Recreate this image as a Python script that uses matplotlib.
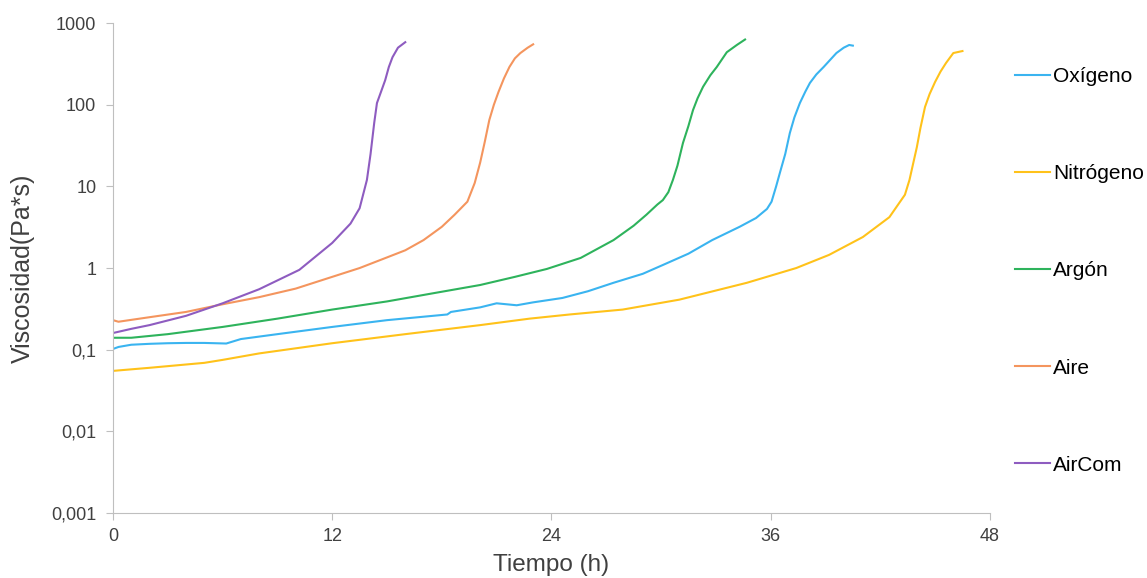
import matplotlib.pyplot as plt
from matplotlib.ticker import FixedLocator, NullLocator

plt.rcParams['font.family'] = ['Liberation Sans', 'DejaVu Sans']

# datos
t_oxigeno = [0, 0.3, 1, 2, 3, 4, 5, 6.2, 7, 9, 12, 15, 18.3, 18.5, 20.1, 21.0, 22.1, 23, 24.6, 26,
             27.4, 29, 30.1, 31.5, 32.8, 34.3, 35.2, 35.8, 36.05, 36.3, 36.5, 36.8, 37.05, 37.3,
             37.6, 37.9, 38.15, 38.5, 38.9, 39.6, 40.0, 40.3, 40.5]
v_oxigeno = [0.102, 0.108, 0.115, 0.118, 0.12, 0.121, 0.121, 0.119, 0.135, 0.155, 0.19, 0.23, 0.27,
             0.29, 0.33, 0.37, 0.35, 0.38, 0.43, 0.52, 0.66, 0.85, 1.09, 1.5, 2.2, 3.2, 4.1, 5.3,
             6.5, 10, 14.5, 25, 45, 70, 105, 145, 185, 235, 290, 430, 500, 540, 530]

t_nitrogeno = [0, 2, 5, 6, 8, 12, 16, 20.1, 22.8, 25, 27.9, 31, 34.7, 37.4, 39.2, 41.05, 42.5,
               43.35, 43.6, 43.8, 44.0, 44.2, 44.45, 44.7, 45.0, 45.3, 45.6, 46.0, 46.5]
v_nitrogeno = [0.055, 0.06, 0.069, 0.075, 0.09, 0.12, 0.155, 0.20, 0.24, 0.27, 0.31, 0.41, 0.66,
               1.0, 1.45, 2.4, 4.2, 7.9, 12, 19, 30, 52, 94, 135, 190, 255, 325, 430, 455]

t_argon = [0, 1, 3, 6, 9, 12, 15, 17.5, 20.1, 22, 23.75, 25.6, 27.4, 28.5, 29.2, 29.8, 30.1, 30.4,
           30.65, 30.9, 31.2, 31.5, 31.75, 32.0, 32.3, 32.7, 33.05, 33.6, 34.15, 34.6]
v_argon = [0.14, 0.14, 0.155, 0.19, 0.24, 0.31, 0.39, 0.49, 0.62, 0.78, 0.975, 1.33, 2.2, 3.3, 4.5,
           6.0, 6.8, 8.5, 12, 18, 34, 55, 86, 120, 166, 230, 290, 440, 540, 630]

t_aire = [0, 0.3, 2, 4, 6, 8, 10, 12, 13.5, 15, 16, 17, 18, 18.7, 19.4, 19.8, 20.1, 20.35, 20.6,
          20.85, 21.1, 21.4, 21.7, 22.0, 22.3, 22.7, 23.0]
v_aire = [0.23, 0.22, 0.25, 0.29, 0.36, 0.44, 0.56, 0.78, 1.0, 1.35, 1.65, 2.2, 3.2, 4.5, 6.5, 11,
          19.6, 35, 65, 100, 143, 210, 290, 370, 430, 500, 550]

t_aircom = [0, 1, 2, 4, 6, 8, 10.2, 12, 13, 13.5, 13.9, 14.1, 14.3, 14.45, 14.7, 14.9, 15.1, 15.3,
            15.6, 16.0]
v_aircom = [0.16, 0.18, 0.2, 0.26, 0.37, 0.55, 0.95, 2.03, 3.5, 5.4, 12, 25, 60, 105, 150, 200, 290,
            382, 500, 584]

x_ticks = [0, 12, 24, 36, 48]
y_ticks = [0.001, 0.01, 0.1, 1, 10, 100, 1000]
y_labels = ['0,001', '0,01', '0,1', '1', '10', '100', '1000']

fig = plt.figure(figsize=(11.47, 5.78), dpi=100)
ax = fig.add_axes([0.0985, 0.1125, 0.7645, 0.8475])

ax.plot(t_oxigeno, v_oxigeno, color='#3AB4F0', lw=1.5, label='Oxígeno')
ax.plot(t_nitrogeno, v_nitrogeno, color='#FFC21A', lw=1.5, label='Nitrógeno')
ax.plot(t_argon, v_argon, color='#2EB35C', lw=1.5, label='Argón')
ax.plot(t_aire, v_aire, color='#F4955E', lw=1.5, label='Aire')
ax.plot(t_aircom, v_aircom, color='#8E5CC0', lw=1.5, label='AirCom')

ax.set_yscale('log')
ax.set_ylim(0.001, 1000)
ax.set_xlim(0, 48)
ax.set_xticks(x_ticks)
ax.set_xticklabels([str(x) for x in x_ticks])
ax.yaxis.set_major_locator(FixedLocator(y_ticks))
ax.yaxis.set_minor_locator(NullLocator())
ax.set_yticklabels(y_labels)

for s in ['top', 'right']:
    ax.spines[s].set_visible(False)
for s in ['left', 'bottom']:
    ax.spines[s].set_color('#BFBFBF')
ax.tick_params(colors='#BFBFBF', labelcolor='#404040', labelsize=13, length=5)
ax.tick_params(axis='y', pad=7)
ax.tick_params(axis='x', pad=5.5)

ax.set_xlabel('Tiempo (h)', fontsize=17.5, color='#404040', labelpad=7)
ax.set_ylabel('Viscosidad(Pa*s)', fontsize=18, color='#404040', labelpad=12)

ax.legend(loc='upper left', bbox_to_anchor=(1.0285, 0.91), frameon=False, fontsize=15,
          labelspacing=3.75, handlelength=1.7, handletextpad=0.15, borderaxespad=0, borderpad=0)

fig.savefig('out.png', dpi=100)
